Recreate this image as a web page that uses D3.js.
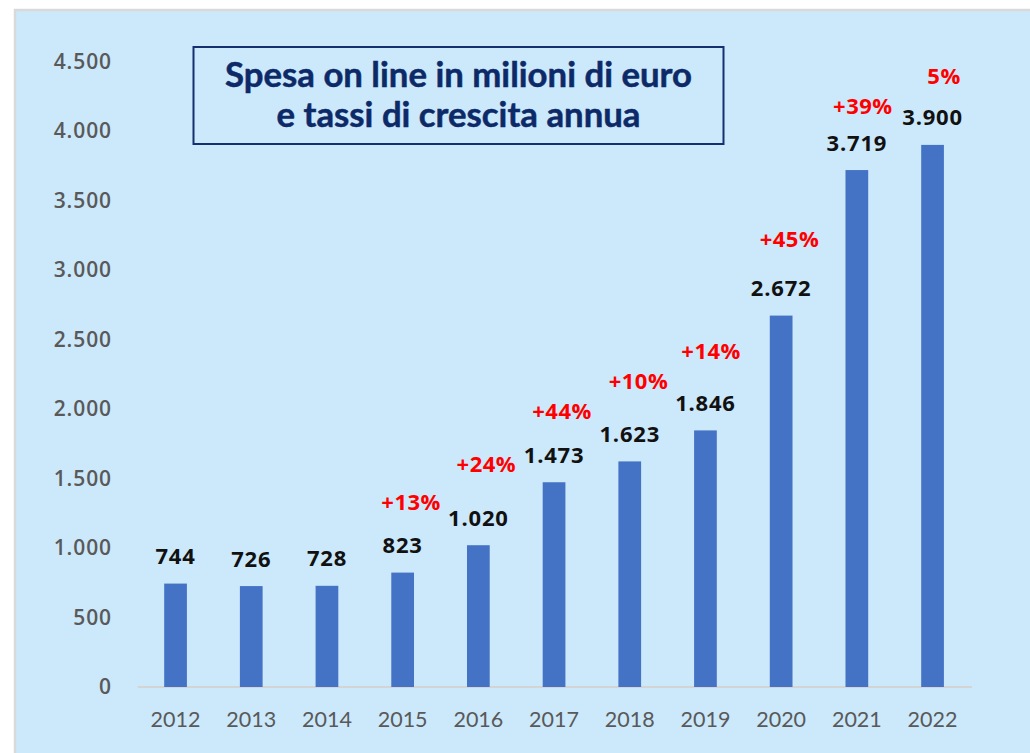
<!DOCTYPE html>
<html>
<head>
<meta charset="utf-8">
<script src="https://cdn.jsdelivr.net/npm/d3@7"></script>
<style>
  html, body { margin: 0; padding: 0; background: #ffffff; }
  svg { display: block; }
</style>
</head>
<body>
<svg id="chart" width="1030" height="753"></svg>
<script>
// Online spending in Italy (millions of euro) and yearly growth rates
const years = ["2012","2013","2014","2015","2016","2017","2018","2019","2020","2021","2022"];
const spending = [744, 726, 728, 823, 1020, 1473, 1623, 1846, 2672, 3719, 3900];
const growthYears = ["2015","2016","2017","2018","2019","2020","2021","2022"];
const growthLabels = ["+13%","+24%","+44%","+10%","+14%","+45%","+39%","5%"];
const yTicks = [0, 500, 1000, 1500, 2000, 2500, 3000, 3500, 4000, 4500];
const titleLines = ["Spesa on line in milioni di euro", "e tassi di crescita annua"];

// Hand placement of the growth callouts: horizontal nudge and lift above the value label (px)
const growthNudge = [8.5, 8, 8, 8.7, 5.7, 8.3, 6, 11.5];
const growthLift = [43, 54, 44, 53, 52, 49, 37, 41];

const it = d3.formatLocale({decimal: ",", thousands: ".", grouping: [3], currency: ["€", ""]});
const fmt = it.format(",d");

const labelFont = "'Open Sans', sans-serif";

const svg = d3.select("#chart");

// Panel
svg.append("rect")
  .attr("x", 15).attr("y", 10)
  .attr("width", 1030).attr("height", 760)
  .attr("fill", "#cce8fb")
  .attr("stroke", "#d9d9d9").attr("stroke-width", 2.5);

const x = d3.scaleBand()
  .domain(years)
  .range([137.7, 970.4])
  .paddingInner(0.7)
  .paddingOuter(0.35);

const y = d3.scaleLinear()
  .domain([0, 4500])
  .range([687, 61.5]);

// Y axis labels
const yAxis = svg.append("g")
  .attr("transform", "translate(112,0)")
  .call(d3.axisLeft(y).tickValues(yTicks).tickFormat(fmt).tickSize(0).tickPadding(0));
yAxis.select(".domain").remove();
yAxis.selectAll("text")
  .attr("font-family", labelFont)
  .attr("font-weight", 600)
  .attr("font-size", 21)
  .attr("letter-spacing", 0.9)
  .attr("fill", "#595959");

// Baseline
svg.append("line")
  .attr("x1", 137.7).attr("x2", 972)
  .attr("y1", y(0)).attr("y2", y(0))
  .attr("stroke", "#d4d4d4").attr("stroke-width", 2);

// X axis labels
const xAxis = svg.append("g")
  .attr("transform", `translate(0,${y(0)})`)
  .call(d3.axisBottom(x).tickSize(0).tickPadding(0));
xAxis.select(".domain").remove();
xAxis.selectAll("text")
  .attr("dy", null)
  .attr("y", 40)
  .attr("font-family", "Lato, sans-serif")
  .attr("font-size", 21.5)
  .attr("fill", "#595959");

// Bars
const rows = years.map((yr, i) => ({year: yr, value: spending[i]}));
svg.append("g").selectAll("rect")
  .data(rows)
  .join("rect")
  .attr("x", d => x(d.year))
  .attr("y", d => y(d.value))
  .attr("width", x.bandwidth())
  .attr("height", d => y(0) - y(d.value))
  .attr("fill", "#4472c4");

// Value labels
const valueBase = d => y(d.value) - 19.5;
svg.append("g").selectAll("text")
  .data(rows)
  .join("text")
  .attr("x", d => x(d.year) + x.bandwidth() / 2)
  .attr("y", valueBase)
  .attr("text-anchor", "middle")
  .attr("font-family", labelFont)
  .attr("font-weight", "bold")
  .attr("font-size", 22)
  .attr("letter-spacing", 0.8)
  .attr("fill", "#111111")
  .text(d => fmt(d.value));

// Growth labels
const growth = growthYears.map((yr, i) => ({
  year: yr,
  label: growthLabels[i],
  value: spending[years.indexOf(yr)],
  nudge: growthNudge[i],
  lift: growthLift[i]
}));
svg.append("g").selectAll("text")
  .data(growth)
  .join("text")
  .attr("x", d => x(d.year) + x.bandwidth() / 2 + d.nudge)
  .attr("y", d => valueBase(d) - d.lift)
  .attr("text-anchor", "middle")
  .attr("font-family", labelFont)
  .attr("font-weight", "bold")
  .attr("font-size", 22)
  .attr("letter-spacing", 0.5)
  .attr("fill", "#ff0000")
  .text(d => d.label);

// Title box
const box = {x: 193.5, y: 47, w: 530, h: 97};
svg.append("rect")
  .attr("x", box.x).attr("y", box.y)
  .attr("width", box.w).attr("height", box.h)
  .attr("fill", "none")
  .attr("stroke", "#14306e").attr("stroke-width", 2);

const title = svg.append("g").selectAll("text")
  .data(titleLines)
  .join("text")
  .attr("x", box.x + box.w / 2)
  .attr("y", (d, i) => 87 + i * 40)
  .attr("text-anchor", "middle")
  .attr("font-family", "Lato, sans-serif")
  .attr("font-weight", "bold")
  .attr("font-size", 30)
  .attr("fill", "#0d2a68")
  .attr("stroke", "#0d2a68")
  .attr("stroke-width", 0.5)
  .text(d => d);

// Scale the title so the first line spans its intended width
const first = title.nodes()[0].getComputedTextLength();
title.attr("font-size", 30 * 467 / first);
</script>
</body>
</html>
